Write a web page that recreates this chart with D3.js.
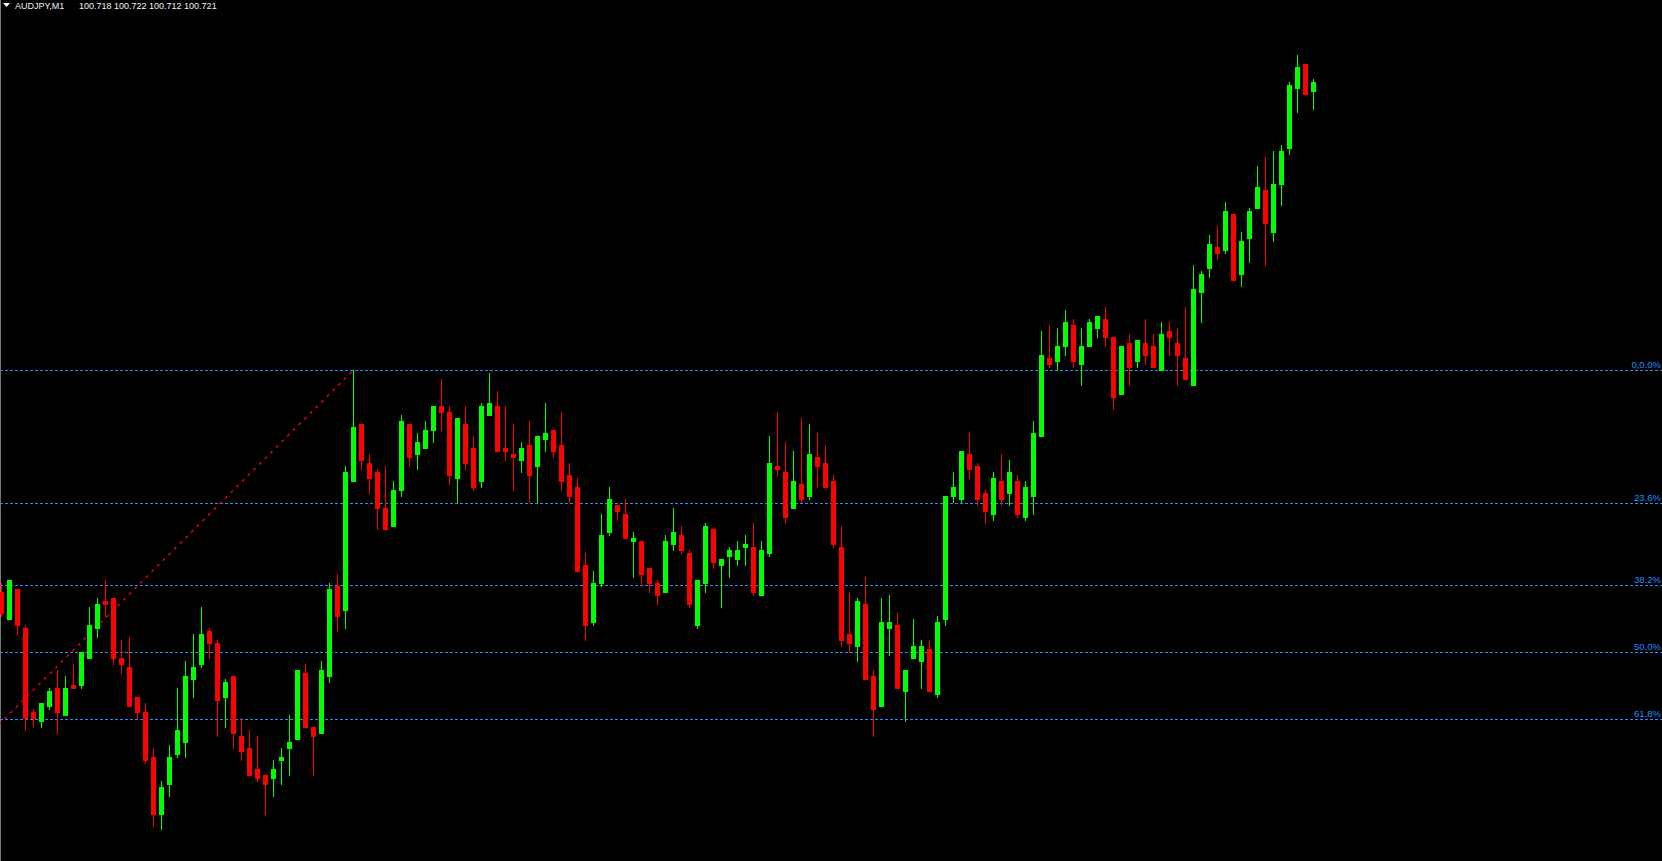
<!DOCTYPE html>
<html>
<head>
<meta charset="utf-8">
<script src="https://cdn.jsdelivr.net/npm/d3@7"></script>
<style>
  html, body { margin: 0; padding: 0; background: #000; overflow: hidden; }
  svg { display: block; }
</style>
</head>
<body>
<svg id="chart" width="1662" height="861"></svg>
<script>
// ---- data (AUDJPY, M1) ----
const symbol = "AUDJPY,M1";
const opens = [100.551,100.542,100.552,100.539,100.511,100.508,100.513,100.519,100.510,100.520,100.520,100.529,100.539,100.548,100.549,100.529,100.526,100.516,100.511,100.496,100.477,100.487,100.497,100.501,100.522,100.527,100.538,100.534,100.516,100.523,100.503,100.499,100.492,100.490,100.489,100.495,100.499,100.502,100.524,100.506,100.504,100.523,100.553,100.545,100.588,100.607,100.594,100.591,100.579,100.573,100.585,100.607,100.597,100.599,100.605,100.613,100.611,100.589,100.607,100.599,100.588,100.610,100.613,100.599,100.597,100.595,100.600,100.593,100.602,100.605,100.600,100.590,100.586,100.560,100.541,100.554,100.571,100.580,100.577,100.568,100.568,100.559,100.554,100.551,100.567,100.570,100.564,100.540,100.554,100.572,100.560,100.563,100.562,100.566,100.566,100.550,100.564,100.593,100.591,100.579,100.587,100.583,100.596,100.594,100.588,100.566,100.537,100.533,100.547,100.523,100.513,100.539,100.540,100.518,100.529,100.528,100.532,100.517,100.542,100.583,100.582,100.597,100.593,100.584,100.577,100.588,100.584,100.588,100.576,100.583,100.603,100.629,100.628,100.633,100.640,100.627,100.633,100.639,100.642,100.636,100.617,100.634,100.628,100.634,100.633,100.625,100.638,100.634,100.629,100.620,100.651,100.659,100.666,100.665,100.677,100.657,100.669,100.679,100.685,100.671,100.687,100.699,100.719,100.727,100.718];
const highs = [100.554,100.555,100.552,100.540,100.512,100.514,100.519,100.525,100.523,100.527,100.531,100.546,100.549,100.555,100.549,100.535,100.536,100.516,100.514,100.499,100.488,100.500,100.519,100.528,100.537,100.546,100.539,100.535,100.522,100.523,100.509,100.505,100.503,100.490,100.495,100.499,100.510,100.525,100.527,100.506,100.528,100.554,100.557,100.593,100.625,100.607,100.597,100.592,100.593,100.588,100.610,100.607,100.604,100.608,100.613,100.622,100.613,100.609,100.613,100.603,100.614,100.624,100.618,100.613,100.607,100.601,100.608,100.603,100.614,100.605,100.611,100.594,100.589,100.564,100.558,100.577,100.586,100.580,100.582,100.571,100.568,100.559,100.555,100.570,100.579,100.573,100.565,100.555,100.574,100.572,100.562,100.566,100.568,100.570,100.574,100.568,100.603,100.611,100.601,100.598,100.609,100.607,100.604,100.600,100.590,100.573,100.551,100.549,100.556,100.525,100.549,100.550,100.544,100.525,100.542,100.535,100.535,100.543,100.583,100.591,100.598,100.604,100.594,100.585,100.591,100.597,100.595,100.590,100.588,100.608,100.638,100.640,100.639,100.645,100.642,100.639,100.642,100.643,100.646,100.636,100.633,100.637,100.635,100.642,100.637,100.641,100.641,100.639,100.646,100.660,100.658,100.670,100.673,100.681,100.677,100.671,100.679,100.693,100.696,100.698,100.700,100.721,100.730,100.727,100.722];
const lows = [100.543,100.542,100.537,100.505,100.506,100.506,100.512,100.504,100.510,100.519,100.519,100.529,100.536,100.543,100.527,100.524,100.513,100.509,100.494,100.473,100.472,100.483,100.496,100.496,100.516,100.526,100.529,100.503,100.506,100.499,100.495,100.490,100.488,100.477,100.483,100.487,100.490,100.502,100.506,100.490,100.504,100.521,100.538,100.539,100.588,100.592,100.584,100.572,100.572,100.573,100.583,100.593,100.592,100.599,100.601,100.605,100.587,100.581,100.592,100.585,100.586,100.610,100.598,100.595,100.585,100.591,100.581,100.581,100.598,100.596,100.585,100.581,100.558,100.535,100.540,100.553,100.570,100.575,100.569,100.556,100.553,100.551,100.547,100.551,100.565,100.564,100.546,100.539,100.551,100.559,100.546,100.556,100.560,100.560,100.550,100.550,100.563,100.590,100.574,100.579,100.581,100.582,100.586,100.586,100.566,100.533,100.531,100.528,100.522,100.503,100.513,100.530,100.519,100.508,100.529,100.519,100.518,100.516,100.540,100.581,100.581,100.589,100.580,100.574,100.575,100.580,100.580,100.576,100.575,100.577,100.603,100.626,100.625,100.630,100.626,100.620,100.633,100.636,100.633,100.612,100.617,100.620,100.626,100.627,100.626,100.625,100.630,100.620,100.622,100.620,100.641,100.656,100.662,100.664,100.655,100.653,100.661,100.679,100.660,100.668,100.680,100.697,100.711,100.717,100.712];
const closes = [100.544,100.555,100.540,100.509,100.509,100.514,100.518,100.511,100.519,100.519,100.531,100.540,100.547,100.547,100.529,100.527,100.513,100.511,100.495,100.477,100.486,100.496,100.505,100.523,100.526,100.537,100.534,100.515,100.521,100.504,100.498,100.490,100.489,100.487,100.492,100.496,100.501,100.525,100.506,100.503,100.525,100.552,100.543,100.591,100.606,100.595,100.589,100.579,100.572,100.585,100.608,100.596,100.601,100.605,100.613,100.611,100.590,100.609,100.594,100.586,100.613,100.614,100.598,100.598,100.596,100.599,100.590,100.603,100.604,100.598,100.588,100.583,100.558,100.540,100.554,100.570,100.582,100.578,100.569,100.569,100.557,100.554,100.550,100.568,100.571,100.565,100.547,100.555,100.573,100.561,100.562,100.565,100.565,100.567,100.551,100.565,100.594,100.592,100.576,100.588,100.582,100.597,100.593,100.586,100.567,100.535,100.534,100.548,100.522,100.512,100.541,100.541,100.519,100.525,100.533,100.533,100.518,100.541,100.583,100.586,100.598,100.592,100.582,100.578,100.589,100.582,100.591,100.577,100.586,100.604,100.630,100.627,100.633,100.641,100.628,100.633,100.641,100.643,100.636,100.616,100.633,100.626,100.635,100.630,100.626,100.637,100.636,100.630,100.622,100.652,100.657,100.667,100.664,100.678,100.655,100.668,100.678,100.686,100.674,100.687,100.698,100.720,100.726,100.717,100.721];

// Fibonacci retracement: from swing low (off-screen, bar -26.5) to swing high (bar 44)
const fibLow = 100.437, fibLowBar = -26.5;
const fibHigh = 100.625, fibHighBar = 44;
const fibLevels = [0, 0.236, 0.382, 0.5, 0.618];
const fibLabels = ["0,0.0%", "23.6%", "38.2%", "50.0%", "61.8%"];

// ---- drawing ----
const W = 1662, H = 861;
const svg = d3.select("#chart");
svg.append("rect").attr("width", W).attr("height", H).attr("fill", "#000");

const n = opens.length;
const x = d3.scaleLinear().domain([0, n - 1]).range([1.5, 1.5 + 8 * (n - 1)]);
const y = d3.scaleLinear().domain([fibLow, fibHigh]).range([934, 370]);

// left border
svg.append("line").attr("x1", 0.5).attr("x2", 0.5).attr("y1", 0).attr("y2", H)
  .attr("stroke", "#7a7a7a").attr("stroke-width", 1);

// fib levels
const fibG = svg.append("g");
fibLevels.forEach((lv, i) => {
  const price = fibHigh - lv * (fibHigh - fibLow);
  const yy = Math.round(y(price)) + 0.5;
  fibG.append("line").attr("x1", 0).attr("x2", W).attr("y1", yy).attr("y2", yy)
    .attr("stroke", "#1E90FF").attr("stroke-width", 1).attr("stroke-dasharray", "3,2");
  fibG.append("text").attr("x", W - 1).attr("y", yy - 3)
    .attr("text-anchor", "end").attr("fill", "#1E90FF")
    .attr("font-family", "'Liberation Sans', Arial, sans-serif").attr("font-size", "9.5px")
    .text(fibLabels[i]);
});
// fib trend line
svg.append("line")
  .attr("x1", x(fibLowBar)).attr("y1", y(fibLow))
  .attr("x2", x(fibHighBar)).attr("y2", y(fibHigh))
  .attr("stroke", "#FF0000").attr("stroke-width", 1.4).attr("stroke-dasharray", "3,5");

// candles
const data = d3.range(n).map(i => ({ i, o: opens[i], h: highs[i], l: lows[i], c: closes[i] }));
const cg = svg.append("g").selectAll("g").data(data).join("g")
  .attr("fill", d => d.c >= d.o ? "#00FF00" : "#FF0000");
cg.append("rect")
  .attr("x", d => x(d.i) - 0.5).attr("width", 1)
  .attr("y", d => Math.round(y(d.h)))
  .attr("height", d => Math.max(1, Math.round(y(d.l)) - Math.round(y(d.h)) + 1));
cg.append("rect")
  .attr("x", d => x(d.i) - 2.5).attr("width", 5)
  .attr("y", d => Math.round(y(Math.max(d.o, d.c))))
  .attr("height", d => Math.max(1, Math.round(y(Math.min(d.o, d.c))) - Math.round(y(Math.max(d.o, d.c))) + 1));

// title
svg.append("path").attr("d", "M3,3 L10,3 L6.5,7 Z").attr("fill", "#fff");
const last = n - 1;
const fmt = d3.format(".3f");
const tg = svg.append("g").attr("fill", "#f2f2f2")
  .attr("font-family", "'Liberation Sans', Arial, sans-serif").attr("font-size", "9px");
tg.append("text").attr("x", 15).attr("y", 9).text(symbol);
tg.append("text").attr("x", 79).attr("y", 9)
  .text([opens[last], highs[last], lows[last], closes[last]].map(fmt).join(" "));
</script>
</body>
</html>
